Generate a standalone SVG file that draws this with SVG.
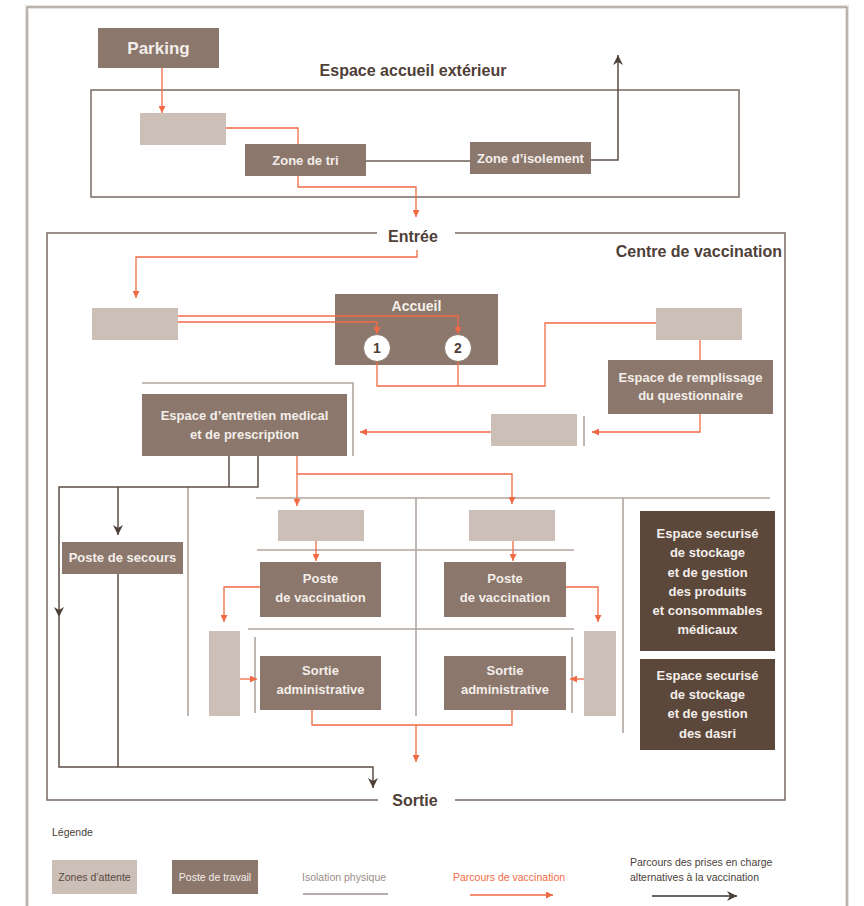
<svg xmlns="http://www.w3.org/2000/svg" width="864" height="906" viewBox="0 0 864 906">
<defs>
<style>
.wait{fill:#cbbfb7}
.node{fill:#8b776b}
.dark{fill:#5c473b}
.lbl{font-family:"Liberation Sans",Arial,sans-serif;font-weight:bold;font-size:13px;fill:#f3eeea;text-anchor:middle}
.head{font-family:"Liberation Sans",Arial,sans-serif;font-weight:bold;font-size:16px;fill:#4f4038}
.or{fill:none;stroke:#f26a45;stroke-width:1.3}
.dk{fill:none;stroke:#5e4e46;stroke-width:1.5}
.iso{fill:none;stroke:#b1a59f;stroke-width:1.6}
.box{fill:none;stroke:#7a6a62;stroke-width:1.5}
.leg{font-family:"Liberation Sans",Arial,sans-serif;font-size:10.5px}
</style>
<marker id="ao" viewBox="0 0 8 8" refX="8" refY="4" markerWidth="7" markerHeight="7" markerUnits="userSpaceOnUse" orient="auto"><path d="M0,0 L8,4 L0,8 z" fill="#f26a45"/></marker>
<marker id="ad" viewBox="0 0 10 10" refX="10" refY="5" markerWidth="10" markerHeight="10" markerUnits="userSpaceOnUse" orient="auto"><path d="M0,0 L10,5 L0,10 L3,5 z" fill="#4e3f37"/></marker>
</defs>
<rect width="864" height="906" fill="#ffffff"/>
<path d="M27,906 V7 H847 V906" fill="none" stroke="#e6e2df" stroke-width="4"/>
<path d="M27,906 V7 H847 V906" fill="none" stroke="#8d8580" stroke-width="1"/>

<g id="zones">
<path class="box" d="M91,90 H739 V197 H91 Z"/>
<text class="head" x="413" y="76" text-anchor="middle">Espace accueil extérieur</text>
<path class="box" d="M377,233 H47 V800 H378 M455,233 H785 V800 H455"/>
<text class="head" x="413" y="242" text-anchor="middle">Entrée</text>
<text class="head" x="415" y="806" text-anchor="middle">Sortie</text>
<text class="head" x="782" y="257" text-anchor="end">Centre de vaccination</text>
</g>

<g id="parking"><rect class="node" x="98" y="28" width="121" height="40"/><text class="lbl" x="158.5" y="54" style="font-size:17px">Parking</text></g>
<g id="attente1"><rect class="wait" x="140" y="113" width="86" height="32"/></g>
<g id="zone-tri"><rect class="node" x="245" y="144" width="121" height="32"/><text class="lbl" x="305.5" y="165">Zone de tri</text></g>
<g id="zone-isolement"><rect class="node" x="470" y="142" width="121" height="32"/><text class="lbl" x="530.5" y="163">Zone d’isolement</text></g>

<g id="attente2"><rect class="wait" x="92" y="308" width="86" height="32"/></g>
<g id="accueil">
<rect class="node" x="335" y="294" width="163" height="71"/>
<text class="lbl" x="416.5" y="311" style="font-size:14px">Accueil</text>
<circle cx="377" cy="348" r="13.5" fill="#ffffff" stroke="#8b776b" stroke-width="1"/>
<circle cx="458" cy="348" r="13.5" fill="#ffffff" stroke="#8b776b" stroke-width="1"/>
<text class="lbl" x="377" y="353" style="fill:#4f4038;font-size:14px">1</text>
<text class="lbl" x="458" y="353" style="fill:#4f4038;font-size:14px">2</text>
</g>
<g id="attente3"><rect class="wait" x="656" y="308" width="86" height="32"/></g>
<g id="remplissage"><rect class="node" x="608" y="360" width="165" height="54"/><text class="lbl" x="690.5" y="382">Espace de remplissage</text><text class="lbl" x="690.5" y="400">du questionnaire</text></g>
<g id="attente4"><rect class="wait" x="491" y="414" width="86" height="32"/></g>
<g id="entretien"><rect class="node" x="142" y="394" width="205" height="62"/><text class="lbl" x="244.5" y="420">Espace d’entretien medical</text><text class="lbl" x="244.5" y="439">et de prescription</text></g>
<g id="secours"><rect class="node" x="62" y="542" width="121" height="32"/><text class="lbl" x="122.5" y="562">Poste de secours</text></g>

<g id="attente5"><rect class="wait" x="278" y="510" width="86" height="31"/></g>
<g id="attente6"><rect class="wait" x="469" y="510" width="86" height="31"/></g>
<g id="vaccination1"><rect class="node" x="260" y="562" width="121" height="55"/><text class="lbl" x="320.5" y="583">Poste</text><text class="lbl" x="320.5" y="602">de vaccination</text></g>
<g id="vaccination2"><rect class="node" x="444" y="562" width="122" height="55"/><text class="lbl" x="505" y="583">Poste</text><text class="lbl" x="505" y="602">de vaccination</text></g>
<g id="attente7"><rect class="wait" x="209" y="631" width="31" height="85"/></g>
<g id="attente8"><rect class="wait" x="584" y="631" width="32" height="85"/></g>
<g id="sortie1"><rect class="node" x="260" y="656" width="121" height="54"/><text class="lbl" x="320.5" y="675">Sortie</text><text class="lbl" x="320.5" y="694">administrative</text></g>
<g id="sortie2"><rect class="node" x="444" y="656" width="122" height="54"/><text class="lbl" x="505" y="675">Sortie</text><text class="lbl" x="505" y="694">administrative</text></g>

<g id="stockage-produits">
<rect class="dark" x="640" y="511" width="135" height="140"/>
<text class="lbl" x="707.5" y="538">Espace securisé</text>
<text class="lbl" x="707.5" y="557">de stockage</text>
<text class="lbl" x="707.5" y="577">et de gestion</text>
<text class="lbl" x="707.5" y="596">des produits</text>
<text class="lbl" x="707.5" y="615">et consommables</text>
<text class="lbl" x="707.5" y="634">médicaux</text>
</g>
<g id="stockage-dasri">
<rect class="dark" x="640" y="659" width="135" height="91"/>
<text class="lbl" x="707.5" y="680">Espace securisé</text>
<text class="lbl" x="707.5" y="699">de stockage</text>
<text class="lbl" x="707.5" y="718">et de gestion</text>
<text class="lbl" x="707.5" y="738">des dasri</text>
</g>

<g id="connectors">
<g class="iso">
<path d="M142,383 H353 V456"/>
<path d="M188,487 V716"/>
<path d="M256,498 H770"/>
<path d="M416,498 V716"/>
<path d="M623,498 V733"/>
<path d="M257,550 H574"/>
<path d="M248,629 H574"/>
<path d="M255,637 V713"/>
<path d="M572,637 V713"/>
<path d="M584,416 V446"/>
</g>
<g class="or">
<path d="M162,68 V113" marker-end="url(#ao)"/>
<path d="M226,128 H298 V144"/>
<path d="M298,176 V187 H416 V217" marker-end="url(#ao)"/>
<path d="M417,250 V257 H136 V298" marker-end="url(#ao)"/>
<path d="M178,316 H458 V334" marker-end="url(#ao)"/>
<path d="M178,322 H377 V334" marker-end="url(#ao)"/>
<path d="M377,361.5 V386 H545 V323 H656"/>
<path d="M458,361.5 V386"/>
<path d="M700,340 V360"/>
<path d="M700,414 V432 H592" marker-end="url(#ao)"/>
<path d="M491,432 H360" marker-end="url(#ao)"/>
<path d="M297,456 V506" marker-end="url(#ao)"/>
<path d="M297,474 H512 V504" marker-end="url(#ao)"/>
<path d="M316,541 V561" marker-end="url(#ao)"/>
<path d="M513,541 V561" marker-end="url(#ao)"/>
<path d="M260,587 H224 V622" marker-end="url(#ao)"/>
<path d="M566,587 H598 V622" marker-end="url(#ao)"/>
<path d="M240,679 H257" marker-end="url(#ao)"/>
<path d="M584,679 H570" marker-end="url(#ao)"/>
<path d="M312,710 V725 H512 V710"/>
<path d="M416,725 V762" marker-end="url(#ao)"/>
</g>
<g class="dk">
<path d="M591,160 H618 V55" marker-end="url(#ad)"/>
<path d="M366,161 H470" style="stroke:#6e5f58;stroke-width:1.3"/>
<path d="M229,456 V487"/>
<path d="M258,456 V487 H59 V767 H373 V788" marker-end="url(#ad)"/>
<path d="M118,487 V535" marker-end="url(#ad)"/>
<path d="M118,574 V767"/>
</g>
<path d="M54,607 L59,617 L64,607 L59,610 Z" fill="#4e3f37"/>
</g>

<g id="legende">
<text class="leg" x="52" y="836" fill="#4a3e38">Légende</text>
<rect class="wait" x="52" y="860" width="85" height="34"/>
<text class="leg" x="94.5" y="881" fill="#5a4a42" text-anchor="middle">Zones d’attente</text>
<rect class="node" x="172" y="860" width="86" height="34"/>
<text class="leg" x="215" y="881" fill="#f3eeea" text-anchor="middle">Poste de travail</text>
<text class="leg" x="302" y="881" fill="#9a8d86">Isolation physique</text>
<path d="M303,894 H388" stroke="#6e5f58" stroke-width="1.2"/>
<text class="leg" x="453" y="881" fill="#f26a45">Parcours de vaccination</text>
<path class="or" d="M470,895 H553" marker-end="url(#ao)"/>
<text class="leg" x="630" y="866" fill="#4a3e38">Parcours des prises en charge</text>
<text class="leg" x="630" y="881" fill="#4a3e38">alternatives à la vaccination</text>
<path d="M652,896 H737" stroke="#3e322c" stroke-width="1.5" fill="none" marker-end="url(#ad)"/>
</g>
</svg>
